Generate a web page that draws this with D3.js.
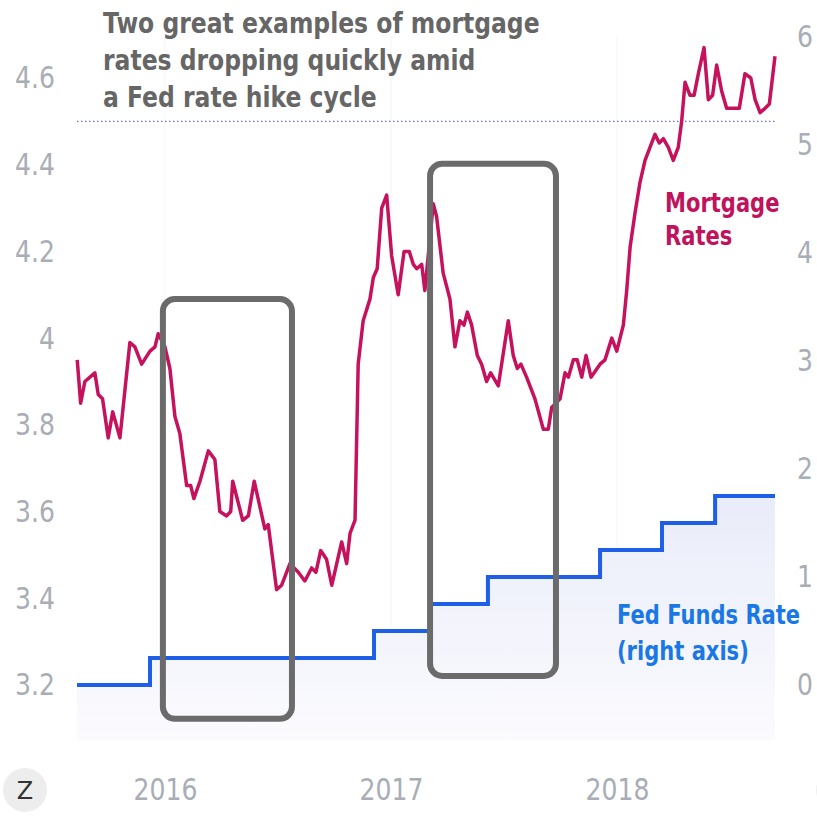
<!DOCTYPE html>
<html>
<head>
<meta charset="utf-8">
<script src="https://cdn.jsdelivr.net/npm/d3@7"></script>
<style>
	body { margin: 0; background: #fff; }
	.chart svg { display: block; }
</style>
</head>
<body>
<div class="chart"></div>
<script>
// mortgage rates, weekly-ish readings (decimal year, %)
const mortgageDates = [
	2015.612, 2015.627, 2015.646, 2015.690, 2015.705, 2015.724, 2015.749, 2015.769, 2015.801, 2015.845,
	2015.867, 2015.897, 2015.934, 2015.956, 2015.970, 2016.000, 2016.022, 2016.044, 2016.066, 2016.096,
	2016.114, 2016.128, 2016.155, 2016.192, 2016.221, 2016.243, 2016.273, 2016.291, 2016.300, 2016.344,
	2016.369, 2016.395, 2016.442, 2016.457, 2016.494, 2016.516, 2016.553, 2016.590, 2016.619, 2016.649,
	2016.668, 2016.689, 2016.715, 2016.738, 2016.782, 2016.804, 2016.819, 2016.841, 2016.855, 2016.877,
	2016.907, 2016.922, 2016.939, 2016.959, 2016.981, 2017.003, 2017.032, 2017.058, 2017.081, 2017.099,
	2017.114, 2017.136, 2017.150, 2017.187, 2017.202, 2017.231, 2017.261, 2017.283, 2017.305, 2017.323,
	2017.338, 2017.357, 2017.382, 2017.401, 2017.423, 2017.441, 2017.475, 2017.519, 2017.541, 2017.559,
	2017.575, 2017.600, 2017.637, 2017.674, 2017.696, 2017.711, 2017.748, 2017.770, 2017.785, 2017.807,
	2017.824, 2017.844, 2017.863, 2017.885, 2017.925, 2017.947, 2017.977, 2017.999, 2018.028, 2018.043,
	2018.058, 2018.080, 2018.102, 2018.124, 2018.146, 2018.168, 2018.187, 2018.205, 2018.227, 2018.249,
	2018.271, 2018.286, 2018.301, 2018.323, 2018.341, 2018.360, 2018.385, 2018.404, 2018.423, 2018.441,
	2018.463, 2018.485, 2018.508, 2018.518, 2018.541, 2018.566, 2018.592, 2018.611, 2018.633, 2018.655,
	2018.674, 2018.699
];
const mortgageRates = [
	3.95, 3.85, 3.90, 3.92, 3.87, 3.86, 3.77, 3.83, 3.77, 3.99,
	3.98, 3.94, 3.97, 3.98, 4.01, 3.98, 3.93, 3.82, 3.78, 3.66,
	3.66, 3.63, 3.67, 3.74, 3.72, 3.60, 3.59, 3.60, 3.67, 3.58,
	3.59, 3.67, 3.56, 3.57, 3.42, 3.43, 3.48, 3.46, 3.44, 3.47,
	3.46, 3.51, 3.49, 3.43, 3.53, 3.48, 3.55, 3.58, 3.94, 4.04,
	4.09, 4.14, 4.16, 4.30, 4.33, 4.19, 4.10, 4.20, 4.20, 4.17,
	4.16, 4.17, 4.11, 4.31, 4.28, 4.15, 4.09, 3.98, 4.04, 4.03,
	4.06, 4.03, 3.96, 3.94, 3.90, 3.92, 3.89, 4.04, 3.96, 3.93,
	3.94, 3.91, 3.86, 3.79, 3.79, 3.84, 3.86, 3.92, 3.91, 3.95,
	3.95, 3.91, 3.96, 3.91, 3.94, 3.95, 4.00, 3.97, 4.03, 4.11,
	4.21, 4.29, 4.36, 4.41, 4.44, 4.47, 4.45, 4.46, 4.44, 4.41,
	4.44, 4.50, 4.59, 4.56, 4.56, 4.61, 4.67, 4.55, 4.56, 4.63,
	4.57, 4.53, 4.53, 4.53, 4.53, 4.61, 4.60, 4.55, 4.52, 4.53,
	4.54, 4.65
];

// fed funds target (lower bound), change dates
const fedDates = [ 2015.611, 2015.934, 2016.925, 2017.173, 2017.429, 2017.925, 2018.199, 2018.434, 2018.699 ];
const fedRates = [ 0, 0.25, 0.5, 0.75, 1.0, 1.25, 1.5, 1.75, 1.75 ];

const yearTicks = [ 2016, 2017, 2018 ];
const leftTicks = [ 3.2, 3.4, 3.6, 3.8, 4, 4.2, 4.4, 4.6 ];
const rightTicks = [ 0, 1, 2, 3, 4, 5, 6 ];
const thresholdRate = 4.5;

// highlighted windows (decimal year, mortgage %)
const boxStart = [ 2015.991, 2017.173 ];
const boxEnd = [ 2016.562, 2017.730 ];
const boxTop = [ 4.09, 4.402 ];
const boxBottom = [ 3.122, 3.221 ];

const titleLines = [ 'Two great examples of mortgage', 'rates dropping quickly amid', 'a Fed rate hike cycle' ];
const mortgageLabel = [ 'Mortgage', 'Rates' ];
const fedLabel = [ 'Fed Funds Rate', '(right axis)' ];

const width = 817;
const height = 817;
const plot = { left: 77, right: 775, top: 37, bottom: 740 };
const squish = 0.81; // text in the picture is narrowed horizontally

const svg = d3.select('.chart').append('svg').attr('width', width).attr('height', height);

const x = d3.scaleLinear().domain([ 2015.611, 2018.699 ]).range([ plot.left, plot.right ]);
const yL = d3.scaleLinear().domain([ 3.2, 4.6 ]).range([ 685, 78 ]);
const yR = d3.scaleLinear().domain([ 0, 6 ]).range([ 685, 37 ]);

const mortgage = mortgageDates.map((d, i) => ({ t: d, v: mortgageRates[i] }));
const fed = fedDates.map((d, i) => ({ t: d, v: fedRates[i] }));

// faint year gridlines
svg
	.append('g')
	.selectAll('line')
	.data(yearTicks)
	.join('line')
	.attr('x1', (d) => x(d))
	.attr('x2', (d) => x(d))
	.attr('y1', plot.top)
	.attr('y2', plot.bottom)
	.attr('stroke', '#f5f5f7')
	.attr('stroke-width', 1);

// area under fed funds
const grad = svg
	.append('defs')
	.append('linearGradient')
	.attr('id', 'fedFill')
	.attr('gradientUnits', 'userSpaceOnUse')
	.attr('x1', 0)
	.attr('x2', 0)
	.attr('y1', yR(1.75))
	.attr('y2', plot.bottom);
grad.append('stop').attr('offset', 0).attr('stop-color', '#e9ecf9');
grad.append('stop').attr('offset', 1).attr('stop-color', '#fbfbfe');

svg
	.append('path')
	.datum(fed)
	.attr('fill', 'url(#fedFill)')
	.attr('d', d3.area().curve(d3.curveStepAfter).x((d) => x(d.t)).y0(plot.bottom).y1((d) => yR(d.v)));

// dotted threshold
svg
	.append('line')
	.attr('x1', plot.left)
	.attr('x2', plot.right)
	.attr('y1', yL(thresholdRate))
	.attr('y2', yL(thresholdRate))
	.attr('stroke', '#6a70d8')
	.attr('stroke-width', 1.3)
	.attr('stroke-dasharray', '1.5,2.5');

// fed funds line
svg
	.append('path')
	.datum(fed)
	.attr('fill', 'none')
	.attr('stroke', '#1f5ee6')
	.attr('stroke-width', 4)
	.attr('d', d3.line().curve(d3.curveStepAfter).x((d) => x(d.t)).y((d) => yR(d.v)));

// mortgage line
svg
	.append('path')
	.datum(mortgage)
	.attr('fill', 'none')
	.attr('stroke', '#c6125c')
	.attr('stroke-width', 3.5)
	.attr('stroke-linejoin', 'round')
	.attr('d', d3.line().x((d) => x(d.t)).y((d) => yL(d.v)));

// annotation boxes
svg
	.append('g')
	.selectAll('rect')
	.data(boxStart)
	.join('rect')
	.attr('x', (d) => x(d))
	.attr('y', (d, i) => yL(boxTop[i]))
	.attr('width', (d, i) => x(boxEnd[i]) - x(d))
	.attr('height', (d, i) => yL(boxBottom[i]) - yL(boxTop[i]))
	.attr('rx', 12)
	.attr('fill', 'none')
	.attr('stroke', '#6b6b6b')
	.attr('stroke-width', 6);

// axes
const styleTicks = (g, anchor) => {
	g.select('.domain').remove();
	g
		.selectAll('text')
		.attr('fill', '#a9adb5')
		.attr('font-family', 'DejaVu Sans')
		.attr('font-size', 31)
		.attr('text-anchor', anchor)
		.attr('transform', `scale(${squish},1)`);
};

svg
	.append('g')
	.attr('transform', 'translate(55,0)')
	.call(d3.axisLeft(yL).tickValues(leftTicks).tickSize(0).tickPadding(0).tickFormat(d3.format('~g')))
	.call((g) => styleTicks(g, 'end'));

svg
	.append('g')
	.attr('transform', 'translate(797,0)')
	.call(d3.axisRight(yR).tickValues(rightTicks).tickSize(0).tickPadding(0).tickFormat(d3.format('d')))
	.call((g) => styleTicks(g, 'start'));

svg
	.append('g')
	.attr('transform', 'translate(0,778)')
	.call(d3.axisBottom(x).tickValues(yearTicks).tickSize(0).tickPadding(0).tickFormat(d3.format('d')))
	.call((g) => styleTicks(g, 'middle'));

// text blocks
const textBlock = (lines, left, top, step, size, color) => {
	svg
		.append('g')
		.selectAll('text')
		.data(lines)
		.join('text')
		.attr('transform', (d, i) => `translate(${left},${top + i * step}) scale(${squish},1)`)
		.attr('font-family', 'DejaVu Sans')
		.attr('font-weight', 'bold')
		.attr('font-size', size)
		.attr('fill', color)
		.text((d) => d);
};

textBlock(titleLines, 103, 33, 37, 29, '#666666');
textBlock(mortgageLabel, 665, 212, 33, 26, '#c0135c');
textBlock(fedLabel, 617, 624, 36, 26, '#1a78e6');

// zoom buttons
svg.append('circle').attr('cx', 25).attr('cy', 790).attr('r', 22).attr('fill', '#ededed');
svg
	.append('text')
	.attr('x', 25)
	.attr('y', 799)
	.attr('text-anchor', 'middle')
	.attr('font-family', 'DejaVu Sans')
	.attr('font-size', 24)
	.attr('fill', '#333')
	.text('Z');
svg.append('circle').attr('cx', 840).attr('cy', 790).attr('r', 24).attr('fill', '#f0f0f0');
</script>
</body>
</html>
